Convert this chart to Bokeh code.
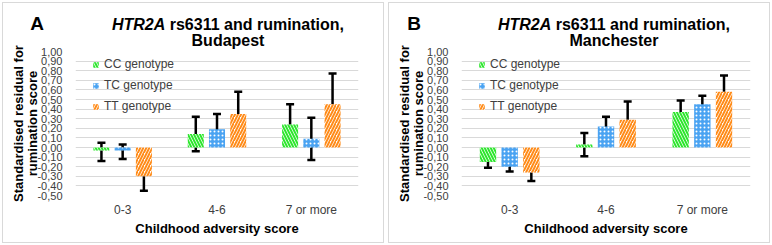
from bokeh.plotting import figure
from bokeh.models import (FactorRange, Range1d, FixedTicker, CustomJSTickFormatter,
                          Whisker, TeeHead, ColumnDataSource, Legend, LegendItem, Div)
from bokeh.transform import dodge
from bokeh.layouts import row, column
from bokeh.embed import file_html
from bokeh.resources import INLINE

# ---------------- data ----------------
categories = ["0-3", "4-6", "7 or more"]
genotypes = ["CC genotype", "TC genotype", "TT genotype"]
y_ticks = [-0.5, -0.4, -0.3, -0.2, -0.1, 0.0, 0.1, 0.2, 0.3, 0.4, 0.5,
           0.6, 0.7, 0.8, 0.9, 1.0]

# Budapest
bud_cc = [-0.03, 0.14, 0.24]
bud_cc_lo = [-0.14, -0.04, 0.03]
bud_cc_hi = [0.05, 0.32, 0.45]
bud_tc = [-0.03, 0.19, 0.09]
bud_tc_lo = [-0.12, 0.03, -0.13]
bud_tc_hi = [0.03, 0.35, 0.31]
bud_tt = [-0.30, 0.35, 0.45]
bud_tt_lo = [-0.45, 0.12, 0.14]
bud_tt_hi = [-0.17, 0.58, 0.77]

# Manchester
man_cc = [-0.15, 0.03, 0.37]
man_cc_lo = [-0.21, -0.09, 0.24]
man_cc_hi = [-0.08, 0.15, 0.49]
man_tc = [-0.20, 0.22, 0.45]
man_tc_lo = [-0.25, 0.12, 0.36]
man_tc_hi = [-0.14, 0.32, 0.54]
man_tt = [-0.26, 0.29, 0.58]
man_tt_lo = [-0.35, 0.10, 0.41]
man_tt_hi = [-0.16, 0.48, 0.75]

FONT = "Liberation Sans"
HEADER_H = 45
offsets = [-0.225, 0.0, 0.225]
styles = [
    dict(fill_color="white", hatch_pattern="left_diagonal_line", hatch_color="#2ee62e",
         hatch_weight=2, hatch_scale=6),
    dict(fill_color="#4aa3f2", hatch_pattern="dot", hatch_color="white",
         hatch_weight=2, hatch_scale=4),
    dict(fill_color="white", hatch_pattern="right_diagonal_line", hatch_color="#ff8c1a",
         hatch_weight=2, hatch_scale=6),
]


def make_header(letter, letter_x, city):
    html = (
        f'<div style="position:relative;width:386px;height:{HEADER_H}px;'
        f'font-family:\'{FONT}\';color:black;">'
        f'<div style="position:absolute;left:{letter_x - 15}px;width:30px;top:14px;'
        f'text-align:center;font-size:19px;line-height:19px;font-weight:bold;">{letter}</div>'
        f'<div style="position:absolute;left:100px;width:256px;top:17px;text-align:center;'
        f'font-size:16px;line-height:16px;font-weight:bold;white-space:nowrap;">'
        f'<i>HTR2A</i> rs6311 and rumination,<br>{city}</div>'
        f'</div>'
    )
    return Div(text=html, width=386, height=HEADER_H, margin=0)


def make_panel(letter, letter_x, city, series, right_border):
    p = figure(width=386, height=245 - HEADER_H,
               x_range=FactorRange(*categories, range_padding=0),
               y_range=Range1d(-0.5, 1.0), output_backend="svg", toolbar_location=None,
               min_border_left=75, min_border_right=right_border, min_border_top=6,
               min_border_bottom=50, margin=0)
    p.outline_line_color = None
    p.background_fill_color = "white"
    p.border_fill_color = None
    p.xgrid.grid_line_color = None
    p.ygrid.ticker = FixedTicker(ticks=y_ticks)
    p.ygrid.grid_line_color = "#d9d9d9"
    p.ygrid.grid_line_width = 1

    p.yaxis.ticker = FixedTicker(ticks=y_ticks)
    p.yaxis.formatter = CustomJSTickFormatter(code="return tick.toFixed(2).replace('.', ',');")
    p.yaxis.axis_line_color = None
    p.yaxis.major_tick_line_color = None
    p.yaxis.minor_tick_line_color = None
    p.yaxis.major_label_text_font = FONT
    p.yaxis.major_label_text_font_size = "11px"
    p.yaxis.major_label_text_color = "#404040"
    p.yaxis.major_label_standoff = 7
    p.yaxis.axis_label = "Standardised residual for\nrumination score"
    p.yaxis.axis_label_text_font = FONT
    p.yaxis.axis_label_text_font_style = "bold"
    p.yaxis.axis_label_text_font_size = "13px"
    p.yaxis.axis_label_text_color = "black"
    p.yaxis.axis_label_text_line_height = 0.95
    p.yaxis.axis_label_standoff = -6

    p.xaxis.axis_line_color = None
    p.xaxis.major_tick_line_color = None
    p.xaxis.major_label_text_font = FONT
    p.xaxis.major_label_text_font_size = "12px"
    p.xaxis.major_label_text_color = "#404040"
    p.xaxis.major_label_standoff = 1
    p.xaxis.axis_label = "Childhood adversity score"
    p.xaxis.axis_label_text_font = FONT
    p.xaxis.axis_label_text_font_style = "bold"
    p.xaxis.axis_label_text_font_size = "13px"
    p.xaxis.axis_label_text_color = "black"
    p.xaxis.axis_label_standoff = 1

    items = []
    for (vals, lo, hi), off, st, name in zip(series, offsets, styles, genotypes):
        src = ColumnDataSource(dict(cat=categories, val=vals))
        r = p.vbar(x=dodge("cat", off, range=p.x_range), top="val", bottom=0, width=0.17,
                   source=src, line_color=None, **st)
        items.append(LegendItem(label=name, renderers=[r]))
    for (vals, lo, hi), off in zip(series, offsets):
        src = ColumnDataSource(dict(cat=categories, lo=lo, hi=hi))
        w = Whisker(base=dodge("cat", off, range=p.x_range), lower="lo", upper="hi",
                    source=src, line_color="black", line_width=2.5,
                    upper_head=TeeHead(size=8, line_color="black", line_width=2.5),
                    lower_head=TeeHead(size=8, line_color="black", line_width=2.5))
        p.add_layout(w)

    leg = Legend(items=items, location=(17, 82), orientation="vertical",
                 background_fill_alpha=0, border_line_color=None,
                 glyph_width=7, glyph_height=7, label_height=14, spacing=7,
                 label_standoff=5, padding=0, margin=0,
                 label_text_font=FONT, label_text_font_size="12px",
                 label_text_color="#404040")
    p.add_layout(leg, "center")

    return column(make_header(letter, letter_x, city), p, width=386, height=245,
                  spacing=0, margin=0,
                  styles={"outline": "1px solid #d9d9d9", "outline-offset": "-3px",
                          "background-color": "white"})


pA = make_panel("A", 37, "Budapest",
                [(bud_cc, bud_cc_lo, bud_cc_hi), (bud_tc, bud_tc_lo, bud_tc_hi),
                 (bud_tt, bud_tt_lo, bud_tt_hi)], 28)
pB = make_panel("B", 28, "Manchester",
                [(man_cc, man_cc_lo, man_cc_hi), (man_tc, man_tc_lo, man_tc_hi),
                 (man_tt, man_tt_lo, man_tt_hi)], 22)

layout = row(pA, pB, spacing=0, margin=0)
open("out.html", "w").write(file_html(layout, INLINE))
